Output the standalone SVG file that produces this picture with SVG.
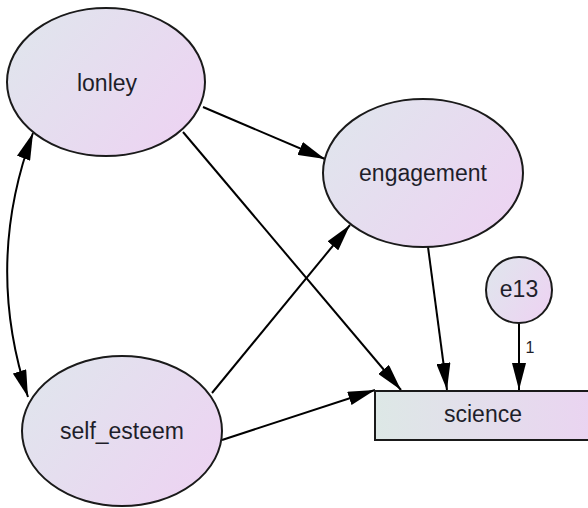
<svg xmlns="http://www.w3.org/2000/svg" width="588" height="508" viewBox="0 0 588 508">
<defs>
<linearGradient id="g" x1="0" y1="0.2" x2="1" y2="0.8">
<stop offset="0" stop-color="#e0e5ed"/>
<stop offset="1" stop-color="#edd3f2"/>
</linearGradient>
<linearGradient id="gr" x1="0" y1="0" x2="1" y2="0">
<stop offset="0" stop-color="#dde8e6"/>
<stop offset="1" stop-color="#ead4f1"/>
</linearGradient>
<marker id="ah" markerUnits="userSpaceOnUse" markerWidth="28" markerHeight="14" refX="27" refY="7" orient="auto-start-reverse" viewBox="0 0 28 14">
<path d="M0,0 L27,7 L0,14 z" fill="#000"/>
</marker>
<style>
.n{fill:url(#g);stroke:#1a1a1a;stroke-width:2}
.t{font-family:"Liberation Sans",Arial,sans-serif;font-size:23px;fill:#1e1e2a;text-anchor:middle}
.c{fill:none;stroke:#000;stroke-width:2;marker-end:url(#ah)}
</style>
</defs>
<g id="connectors">
<line class="c" x1="203" y1="107" x2="325" y2="159"/>
<line class="c" x1="183" y1="132" x2="401" y2="390"/>
<line class="c" x1="428" y1="247" x2="447" y2="390"/>
<line class="c" x1="212" y1="393" x2="350" y2="225"/>
<line class="c" x1="222" y1="440" x2="375" y2="390"/>
<line class="c" x1="519" y1="323" x2="519" y2="390"/>
<path class="c" d="M33,133 Q-16,264 28,397" style="marker-start:url(#ah)"/>
<text x="530" y="353" style="font-family:'Liberation Sans',Arial,sans-serif;font-size:16px;fill:#1e1e2a;text-anchor:middle">1</text>
</g>
<g id="lonley">
<ellipse class="n" cx="106" cy="82" rx="99" ry="74"/>
<text class="t" x="107" y="91">lonley</text>
</g>
<g id="engagement">
<ellipse class="n" cx="423" cy="173" rx="100" ry="74"/>
<text class="t" x="423" y="181">engagement</text>
</g>
<g id="self_esteem">
<ellipse class="n" cx="122" cy="431" rx="100" ry="75"/>
<text class="t" x="122" y="439">self_esteem</text>
</g>
<g id="e13">
<circle class="n" cx="519" cy="290" r="33"/>
<text class="t" x="519" y="297">e13</text>
</g>
<g id="science">
<rect x="375" y="391" width="216" height="49" fill="url(#gr)" stroke="#1a1a1a" stroke-width="2"/>
<text class="t" x="483" y="422">science</text>
</g>
</svg>
